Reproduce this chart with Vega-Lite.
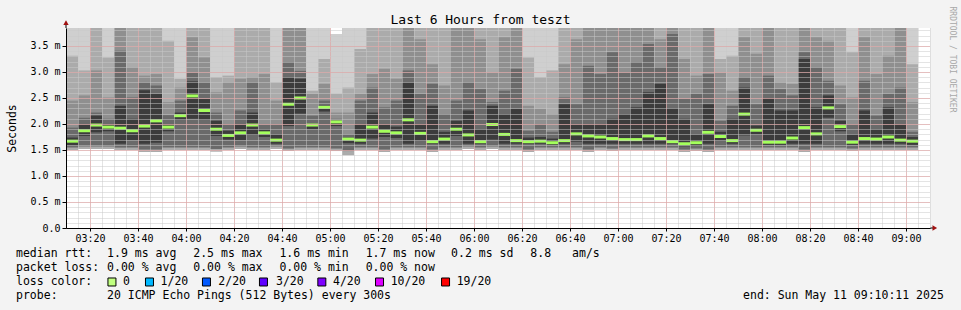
{
  "$schema": "https://vega.github.io/schema/vega-lite/v6.json",
  "width": 864,
  "height": 200,
  "autosize": {"type": "none"},
  "padding": {"left": 66, "top": 28, "right": 31, "bottom": 82},
  "background": "#f3f3f3",
  "config": {"view": {"fill": "#ffffff", "stroke": null}, "font": "DejaVu Sans Mono"},
  "data": {
    "values": [
      {"t":190,"e":195,"a":1.50,"b":1.55,"c":1.59,"m":1.67,"h1":4,"h2":3.31,"h3":2.45,"h4":1.93,"h5":1.74},
      {"t":195,"e":200,"a":1.52,"b":1.57,"c":1.77,"m":1.87,"h1":4,"h2":3.03,"h3":2.55,"h4":2.12,"h5":2.00},
      {"t":200,"e":205,"a":1.52,"b":1.57,"c":1.84,"m":1.98,"h1":4,"h2":4,"h3":3.03,"h4":2.22,"h5":2.16},
      {"t":205,"e":210,"a":1.52,"b":1.57,"c":1.86,"m":1.94,"h1":4,"h2":3.28,"h3":2.51,"h4":2.10,"h5":2.00},
      {"t":210,"e":215,"a":1.50,"b":1.55,"c":1.62,"m":1.92,"h1":4,"h2":4,"h3":4,"h4":3.41,"h5":2.35},
      {"t":215,"e":220,"a":1.50,"b":1.55,"c":1.69,"m":1.87,"h1":4,"h2":4,"h3":3.09,"h4":2.51,"h5":2.10},
      {"t":220,"e":225,"a":1.46,"b":1.51,"c":1.62,"m":1.96,"h1":4,"h2":4,"h3":2.93,"h4":2.80,"h5":2.65},
      {"t":225,"e":230,"a":1.46,"b":1.51,"c":1.64,"m":2.06,"h1":4,"h2":4,"h3":2.96,"h4":2.74,"h5":2.58},
      {"t":230,"e":235,"a":1.50,"b":1.55,"c":1.86,"m":1.94,"h1":4,"h2":3.60,"h3":2.42,"h4":2.17,"h5":2.00},
      {"t":235,"e":240,"a":1.50,"b":1.55,"c":2.08,"m":2.16,"h1":4,"h2":2.87,"h3":2.70,"h4":2.45,"h5":2.22},
      {"t":240,"e":245,"a":1.50,"b":1.55,"c":2.10,"m":2.54,"h1":4,"h2":4,"h3":3.67,"h4":2.99,"h5":2.82},
      {"t":245,"e":250,"a":1.50,"b":1.55,"c":2.08,"m":2.26,"h1":4,"h2":4,"h3":3.28,"h4":2.80,"h5":2.48},
      {"t":250,"e":255,"a":1.47,"b":1.52,"c":1.77,"m":1.90,"h1":4,"h2":2.90,"h3":2.61,"h4":2.22,"h5":2.06},
      {"t":255,"e":260,"a":1.50,"b":1.55,"c":1.70,"m":1.78,"h1":4,"h2":2.93,"h3":2.80,"h4":2.00,"h5":1.87},
      {"t":260,"e":265,"a":1.52,"b":1.57,"c":1.69,"m":1.83,"h1":4,"h2":4,"h3":2.87,"h4":2.26,"h5":2.00},
      {"t":265,"e":270,"a":1.50,"b":1.55,"c":1.79,"m":1.98,"h1":4,"h2":4,"h3":2.90,"h4":2.80,"h5":2.22},
      {"t":270,"e":275,"a":1.50,"b":1.55,"c":1.75,"m":1.83,"h1":4,"h2":4,"h3":2.96,"h4":2.00,"h5":1.90},
      {"t":275,"e":280,"a":1.52,"b":1.57,"c":1.62,"m":1.69,"h1":4,"h2":2.80,"h3":2.45,"h4":2.00,"h5":1.80},
      {"t":280,"e":285,"a":1.48,"b":1.53,"c":1.96,"m":2.38,"h1":4,"h2":4,"h3":4,"h4":3.19,"h5":2.90},
      {"t":285,"e":290,"a":1.50,"b":1.55,"c":2.20,"m":2.50,"h1":4,"h2":4,"h3":4,"h4":3.02,"h5":2.87},
      {"t":290,"e":295,"a":1.50,"b":1.55,"c":1.90,"m":1.98,"h1":4,"h2":2.64,"h3":2.58,"h4":2.16,"h5":2.00},
      {"t":295,"e":300,"a":1.50,"b":1.55,"c":2.24,"m":2.32,"h1":4,"h2":3.25,"h3":2.77,"h4":2.45,"h5":2.35},
      {"t":300,"e":305,"a":1.48,"b":1.53,"c":1.96,"m":2.04,"h1":3.73,"h2":2.58,"h3":2.22,"h4":2.10,"h5":2.06},
      {"t":305,"e":310,"a":1.40,"b":1.48,"c":1.63,"m":1.71,"h1":4,"h2":2.70,"h3":2.22,"h4":1.80,"h5":1.74},
      {"t":310,"e":315,"a":1.50,"b":1.55,"c":1.62,"m":1.69,"h1":4,"h2":3.44,"h3":2.58,"h4":2.45,"h5":2.00},
      {"t":315,"e":320,"a":1.50,"b":1.55,"c":1.72,"m":1.94,"h1":4,"h2":4,"h3":2.96,"h4":2.70,"h5":2.22},
      {"t":320,"e":325,"a":1.46,"b":1.51,"c":1.75,"m":1.86,"h1":4,"h2":4,"h3":3.06,"h4":2.32,"h5":2.00},
      {"t":325,"e":330,"a":1.50,"b":1.55,"c":1.73,"m":1.83,"h1":4,"h2":4,"h3":2.87,"h4":2.45,"h5":1.95},
      {"t":330,"e":335,"a":1.50,"b":1.55,"c":1.62,"m":2.08,"h1":4,"h2":4,"h3":4,"h4":3.03,"h5":2.80},
      {"t":335,"e":340,"a":1.50,"b":1.55,"c":1.68,"m":1.82,"h1":4,"h2":4,"h3":3.63,"h4":2.58,"h5":2.00},
      {"t":340,"e":345,"a":1.46,"b":1.51,"c":1.62,"m":1.66,"h1":4,"h2":4,"h3":3.15,"h4":2.77,"h5":2.35},
      {"t":345,"e":350,"a":1.50,"b":1.55,"c":1.62,"m":1.71,"h1":4,"h2":4,"h3":2.74,"h4":2.19,"h5":1.85},
      {"t":350,"e":355,"a":1.50,"b":1.55,"c":1.77,"m":1.90,"h1":4,"h2":4,"h3":4,"h4":2.45,"h5":2.06},
      {"t":355,"e":360,"a":1.52,"b":1.57,"c":1.62,"m":1.79,"h1":4,"h2":4,"h3":4,"h4":2.80,"h5":2.26},
      {"t":360,"e":365,"a":1.50,"b":1.55,"c":1.62,"m":1.66,"h1":4,"h2":4,"h3":3.63,"h4":2.67,"h5":1.90},
      {"t":365,"e":370,"a":1.52,"b":1.57,"c":1.70,"m":1.99,"h1":4,"h2":4,"h3":2.99,"h4":2.42,"h5":2.35},
      {"t":370,"e":375,"a":1.50,"b":1.55,"c":1.62,"m":1.80,"h1":4,"h2":4,"h3":3.67,"h4":2.64,"h5":2.19},
      {"t":375,"e":380,"a":1.50,"b":1.55,"c":1.62,"m":1.68,"h1":4,"h2":4,"h3":4,"h4":3.06,"h5":2.29},
      {"t":380,"e":385,"a":1.46,"b":1.51,"c":1.62,"m":1.66,"h1":4,"h2":3.28,"h3":2.35,"h4":1.87,"h5":1.74},
      {"t":385,"e":390,"a":1.50,"b":1.55,"c":1.62,"m":1.67,"h1":4,"h2":2.90,"h3":2.29,"h4":2.00,"h5":1.75},
      {"t":390,"e":395,"a":1.50,"b":1.55,"c":1.60,"m":1.64,"h1":4,"h2":3.03,"h3":2.19,"h4":1.85,"h5":1.72},
      {"t":395,"e":400,"a":1.50,"b":1.55,"c":1.62,"m":1.68,"h1":4,"h2":4,"h3":3.15,"h4":2.51,"h5":2.38},
      {"t":400,"e":405,"a":1.50,"b":1.55,"c":1.66,"m":1.81,"h1":4,"h2":4,"h3":3.63,"h4":2.38,"h5":2.00},
      {"t":405,"e":410,"a":1.46,"b":1.51,"c":1.62,"m":1.77,"h1":4,"h2":4,"h3":4,"h4":3.12,"h5":2.00},
      {"t":410,"e":415,"a":1.50,"b":1.55,"c":1.62,"m":1.75,"h1":4,"h2":4,"h3":4,"h4":2.96,"h5":2.00},
      {"t":415,"e":420,"a":1.48,"b":1.53,"c":1.62,"m":1.72,"h1":4,"h2":4,"h3":4,"h4":3.38,"h5":2.10},
      {"t":420,"e":425,"a":1.50,"b":1.55,"c":1.62,"m":1.70,"h1":4,"h2":4,"h3":4,"h4":2.99,"h5":2.19},
      {"t":425,"e":430,"a":1.50,"b":1.55,"c":1.62,"m":1.70,"h1":4,"h2":4,"h3":4,"h4":3.19,"h5":2.32},
      {"t":430,"e":435,"a":1.50,"b":1.55,"c":1.62,"m":1.77,"h1":4,"h2":4,"h3":4,"h4":3.54,"h5":2.61},
      {"t":435,"e":440,"a":1.50,"b":1.55,"c":1.62,"m":1.72,"h1":4,"h2":4,"h3":3.63,"h4":3.09,"h5":2.77},
      {"t":440,"e":445,"a":1.50,"b":1.55,"c":1.62,"m":1.66,"h1":4,"h2":4,"h3":4,"h4":3.73,"h5":2.30},
      {"t":445,"e":450,"a":1.46,"b":1.51,"c":1.57,"m":1.62,"h1":4,"h2":4,"h3":3.25,"h4":2.48,"h5":2.10},
      {"t":450,"e":455,"a":1.48,"b":1.53,"c":1.58,"m":1.64,"h1":4,"h2":4,"h3":2.93,"h4":2.58,"h5":1.80},
      {"t":455,"e":460,"a":1.46,"b":1.51,"c":1.62,"m":1.84,"h1":4,"h2":4,"h3":4,"h4":2.96,"h5":2.38},
      {"t":460,"e":465,"a":1.50,"b":1.55,"c":1.68,"m":1.76,"h1":4,"h2":3.25,"h3":2.99,"h4":2.06,"h5":1.85},
      {"t":465,"e":470,"a":1.50,"b":1.55,"c":1.62,"m":1.68,"h1":4,"h2":3.31,"h3":2.64,"h4":2.35,"h5":2.10},
      {"t":470,"e":475,"a":1.50,"b":1.55,"c":1.78,"m":2.19,"h1":4,"h2":4,"h3":3.67,"h4":2.90,"h5":2.70},
      {"t":475,"e":480,"a":1.50,"b":1.55,"c":1.80,"m":1.88,"h1":4,"h2":4,"h3":3.35,"h4":2.38,"h5":1.97},
      {"t":480,"e":485,"a":1.50,"b":1.55,"c":1.60,"m":1.65,"h1":4,"h2":4,"h3":4,"h4":2.93,"h5":2.50},
      {"t":485,"e":490,"a":1.50,"b":1.55,"c":1.60,"m":1.65,"h1":4,"h2":4,"h3":2.80,"h4":2.67,"h5":2.26},
      {"t":490,"e":495,"a":1.50,"b":1.55,"c":1.62,"m":1.73,"h1":4,"h2":4,"h3":2.77,"h4":2.55,"h5":2.26},
      {"t":495,"e":500,"a":1.46,"b":1.51,"c":1.62,"m":1.93,"h1":4,"h2":4,"h3":4,"h4":3.38,"h5":3.25},
      {"t":500,"e":505,"a":1.50,"b":1.55,"c":1.62,"m":1.81,"h1":4,"h2":4,"h3":3.67,"h4":3.09,"h5":2.32},
      {"t":505,"e":510,"a":1.50,"b":1.55,"c":2.12,"m":2.31,"h1":4,"h2":4,"h3":3.60,"h4":2.83,"h5":2.55},
      {"t":510,"e":515,"a":1.50,"b":1.55,"c":1.86,"m":1.95,"h1":4,"h2":4,"h3":2.74,"h4":2.38,"h5":2.06},
      {"t":515,"e":520,"a":1.48,"b":1.53,"c":1.60,"m":1.65,"h1":4,"h2":3.38,"h3":2.51,"h4":2.00,"h5":1.80},
      {"t":520,"e":525,"a":1.50,"b":1.55,"c":1.62,"m":1.72,"h1":4,"h2":4,"h3":3.67,"h4":2.83,"h5":2.26},
      {"t":525,"e":530,"a":1.50,"b":1.55,"c":1.62,"m":1.71,"h1":4,"h2":4,"h3":2.96,"h4":2.16,"h5":1.90},
      {"t":530,"e":535,"a":1.50,"b":1.55,"c":1.62,"m":1.75,"h1":4,"h2":4,"h3":3.31,"h4":2.58,"h5":2.32},
      {"t":535,"e":540,"a":1.50,"b":1.55,"c":1.62,"m":1.69,"h1":4,"h2":4,"h3":4,"h4":2.70,"h5":2.00},
      {"t":540,"e":545,"a":1.50,"b":1.55,"c":1.60,"m":1.67,"h1":4,"h2":3.15,"h3":2.42,"h4":1.85,"h5":1.75}
    ]
  },
  "resolve": {"scale": {"x": "independent", "y": "independent"}, "axis": {"x": "independent", "y": "independent"}},
  "layer": [
    {
      "mark": {"type": "point", "opacity": 0},
      "encoding": {
        "x": {"field": "t", "type": "quantitative", "scale": {"domain": [190, 550], "nice": false, "zero": false},
          "axis": {"orient": "bottom", "title": null, "labels": false, "ticks": false, "domain": false, "grid": true, "gridColor": "#c8c8c8", "gridDash": [1, 1], "gridWidth": 1, "tickCount": 72, "zindex": 1}},
        "y": {"field": "m", "type": "quantitative", "scale": {"domain": [0, 3.846], "nice": false, "zero": false},
          "axis": {"orient": "left", "title": null, "labels": false, "ticks": false, "domain": false, "grid": true, "gridColor": "#c8c8c8", "gridDash": [1, 1], "gridWidth": 1, "tickCount": 40, "zindex": 1}}
      }
    },
    {
      "mark": {"type": "rect", "color": "#cfcfcf", "clip": true},
      "encoding": {
        "x": {"field": "t", "type": "quantitative", "scale": {"domain": [190, 550], "nice": false, "zero": false},
          "axis": {"orient": "bottom", "title": null, "values": [200, 220, 240, 260, 280, 300, 320, 340, 360, 380, 400, 420, 440, 460, 480, 500, 520, 540], "labelExpr": "pad(floor(datum.value / 60) + '', 2, '0', 'left') + ':' + pad((datum.value % 60) + '', 2, '0', 'left')", "grid": true, "gridColor": "#e69a9a", "gridDash": [1, 1], "gridWidth": 1, "domainColor": "#000000", "tickColor": "#000000", "tickSize": 3, "labelFont": "DejaVu Sans Mono", "labelFontSize": 10, "labelColor": "#000000", "labelPadding": 2, "labelFlush": false, "labelOverlap": false, "zindex": 1}},
        "x2": {"field": "e"},
        "y": {"field": "a", "type": "quantitative", "scale": {"domain": [0, 3.846], "nice": false, "zero": false},
          "axis": {"orient": "left", "title": "Seconds", "titleFont": "DejaVu Sans Mono", "titleFontSize": 11.5, "titleFontWeight": "normal", "titleColor": "#000000", "titlePadding": 12, "values": [0, 0.5, 1, 1.5, 2, 2.5, 3, 3.5], "labelExpr": "datum.value == 0 ? '0.0\u00a0\u00a0' : format(datum.value, '.1f') + ' m'", "grid": true, "gridColor": "#e69a9a", "gridDash": [1, 1], "gridWidth": 1, "domainColor": "#000000", "tickColor": "#000000", "tickSize": 4, "labelFont": "DejaVu Sans Mono", "labelFontSize": 10, "labelColor": "#000000", "labelPadding": 2, "labelFlush": false, "zindex": 1}},
        "y2": {"field": "h1"}
      }
    },
    {
      "mark": {"type": "rect", "color": "#ababab", "clip": true},
      "encoding": {
        "x": {"field": "t", "type": "quantitative", "scale": {"domain": [190, 550], "nice": false, "zero": false}, "axis": null},
        "x2": {"field": "e"},
        "y": {"field": "a", "type": "quantitative", "scale": {"domain": [0, 3.846], "nice": false, "zero": false}, "axis": null},
        "y2": {"field": "h2"}
      }
    },
    {
      "mark": {"type": "rect", "color": "#8f8f8f", "clip": true},
      "encoding": {
        "x": {"field": "t", "type": "quantitative", "scale": {"domain": [190, 550], "nice": false, "zero": false}, "axis": null},
        "x2": {"field": "e"},
        "y": {"field": "b", "type": "quantitative", "scale": {"domain": [0, 3.846], "nice": false, "zero": false}, "axis": null},
        "y2": {"field": "h3"}
      }
    },
    {
      "mark": {"type": "rect", "color": "#6a6a6a", "clip": true},
      "encoding": {
        "x": {"field": "t", "type": "quantitative", "scale": {"domain": [190, 550], "nice": false, "zero": false}, "axis": null},
        "x2": {"field": "e"},
        "y": {"field": "b", "type": "quantitative", "scale": {"domain": [0, 3.846], "nice": false, "zero": false}, "axis": null},
        "y2": {"field": "h4"}
      }
    },
    {
      "mark": {"type": "rect", "color": "#3c3c3c", "clip": true},
      "encoding": {
        "x": {"field": "t", "type": "quantitative", "scale": {"domain": [190, 550], "nice": false, "zero": false}, "axis": null},
        "x2": {"field": "e"},
        "y": {"field": "c", "type": "quantitative", "scale": {"domain": [0, 3.846], "nice": false, "zero": false}, "axis": null},
        "y2": {"field": "h5"}
      }
    },
    {
      "mark": {"type": "rule", "color": "#a4ff5c", "strokeWidth": 3},
      "encoding": {
        "x": {"field": "t", "type": "quantitative", "scale": {"domain": [190, 550], "nice": false, "zero": false}, "axis": null},
        "x2": {"field": "e"},
        "y": {"field": "m", "type": "quantitative", "scale": {"domain": [0, 3.846], "nice": false, "zero": false}, "axis": null}
      }
    },
    {
      "data": {"values": [{"t": 550, "e": 552, "m": 0}]},
      "mark": {"type": "rule", "color": "#000000", "strokeWidth": 1, "clip": false},
      "encoding": {
        "x": {"field": "t", "type": "quantitative", "scale": {"domain": [190, 550], "nice": false, "zero": false}, "axis": null},
        "x2": {"field": "e"},
        "y": {"field": "m", "type": "quantitative", "scale": {"domain": [0, 3.846], "nice": false, "zero": false}, "axis": null}
      }
    },
    {
      "data": {"values": [{"t": 552, "m": 0}]},
      "mark": {"type": "point", "shape": "triangle-right", "filled": true, "color": "#a01010", "size": 28, "opacity": 1, "clip": false},
      "encoding": {
        "x": {"field": "t", "type": "quantitative", "scale": {"domain": [190, 550], "nice": false, "zero": false}, "axis": null},
        "y": {"field": "m", "type": "quantitative", "scale": {"domain": [0, 3.846], "nice": false, "zero": false}, "axis": null}
      }
    },
    {
      "data": {"values": [{"t": 190, "m": 3.846, "h1": 3.95}]},
      "mark": {"type": "rule", "color": "#000000", "strokeWidth": 1, "clip": false},
      "encoding": {
        "x": {"field": "t", "type": "quantitative", "scale": {"domain": [190, 550], "nice": false, "zero": false}, "axis": null},
        "y": {"field": "m", "type": "quantitative", "scale": {"domain": [0, 3.846], "nice": false, "zero": false}, "axis": null},
        "y2": {"field": "h1"}
      }
    },
    {
      "data": {"values": [{"t": 190, "m": 3.95}]},
      "mark": {"type": "point", "shape": "triangle-up", "filled": true, "color": "#a01010", "size": 28, "opacity": 1, "clip": false},
      "encoding": {
        "x": {"field": "t", "type": "quantitative", "scale": {"domain": [190, 550], "nice": false, "zero": false}, "axis": null},
        "y": {"field": "m", "type": "quantitative", "scale": {"domain": [0, 3.846], "nice": false, "zero": false}, "axis": null}
      }
    },
    {
      "data": {"values": [
        {"r": 0, "c": 0, "s": "median rtt:"},
        {"r": 0, "c": 13.1, "s": "1.9 ms avg"},
        {"r": 0, "c": 25.5, "s": "2.5 ms max"},
        {"r": 0, "c": 37.9, "s": "1.6 ms min"},
        {"r": 0, "c": 50.3, "s": "1.7 ms now"},
        {"r": 0, "c": 62.6, "s": "0.2 ms sd"},
        {"r": 0, "c": 74.0, "s": "8.8"},
        {"r": 0, "c": 80.0, "s": "am/s"},
        {"r": 1, "c": 0, "s": "packet loss:"},
        {"r": 1, "c": 13.1, "s": "0.00 % avg"},
        {"r": 1, "c": 25.5, "s": "0.00 % max"},
        {"r": 1, "c": 37.9, "s": "0.00 % min"},
        {"r": 1, "c": 50.3, "s": "0.00 % now"},
        {"r": 2, "c": 0, "s": "loss color:"},
        {"r": 2, "c": 15.4, "s": "0"},
        {"r": 2, "c": 20.8, "s": "1/20"},
        {"r": 2, "c": 29.1, "s": "2/20"},
        {"r": 2, "c": 37.4, "s": "3/20"},
        {"r": 2, "c": 45.6, "s": "4/20"},
        {"r": 2, "c": 53.9, "s": "10/20"},
        {"r": 2, "c": 63.4, "s": "19/20"},
        {"r": 3, "c": 0, "s": "probe:"},
        {"r": 3, "c": 13.1, "s": "20 ICMP Echo Pings (512 Bytes) every 300s"},
        {"r": 3, "c": 104.6, "s": "end: Sun May 11 09:10:11 2025"}
      ]},
      "mark": {"type": "text", "align": "left", "baseline": "middle", "font": "DejaVu Sans Mono", "fontSize": 11.5, "color": "#000000", "clip": false},
      "encoding": {
        "x": {"field": "c", "type": "quantitative", "scale": {"domain": [7.19, 131.5], "nice": false, "zero": false},
          "axis": {"orient": "top", "labels": false, "ticks": false, "domain": false, "grid": false, "title": "Last 6 Hours from teszt", "titleFont": "DejaVu Sans Mono", "titleFontSize": 13, "titleFontWeight": "normal", "titleColor": "#000000", "titleX": 414, "titleY": -5, "titleAlign": "center", "titleBaseline": "alphabetic", "titleAngle": 0}},
        "y": {"field": "r", "type": "quantitative", "scale": {"domain": [-16.143, -1.857], "reverse": true, "nice": false, "zero": false},
          "axis": {"orient": "right", "labels": false, "ticks": false, "domain": false, "grid": false, "title": "RRDTOOL / TOBI OETIKER", "titleAngle": 90, "titleFont": "DejaVu Sans Mono", "titleFontSize": 8, "titleFontWeight": "normal", "titleColor": "#a8a8a8", "titleX": 21, "titleY": 31, "titleAlign": "center", "titleBaseline": "middle"}},
        "text": {"field": "s"}
      }
    },
    {
      "data": {"values": [
        {"r": 2, "c": 13.8, "k": "0"},
        {"r": 2, "c": 19.2, "k": "1/20"},
        {"r": 2, "c": 27.4, "k": "2/20"},
        {"r": 2, "c": 35.6, "k": "3/20"},
        {"r": 2, "c": 44.0, "k": "4/20"},
        {"r": 2, "c": 52.3, "k": "10/20"},
        {"r": 2, "c": 61.8, "k": "19/20"}
      ]},
      "mark": {"type": "point", "shape": "square", "filled": true, "size": 64, "stroke": "#000000", "strokeWidth": 1, "opacity": 1, "clip": false},
      "encoding": {
        "x": {"field": "c", "type": "quantitative", "scale": {"domain": [7.19, 131.5], "nice": false, "zero": false}, "axis": null},
        "y": {"field": "r", "type": "quantitative", "scale": {"domain": [-16.143, -1.857], "reverse": true, "nice": false, "zero": false}, "axis": null},
        "fill": {"field": "k", "type": "nominal", "legend": null,
          "scale": {"domain": ["0", "1/20", "2/20", "3/20", "4/20", "10/20", "19/20"], "range": ["#c0ff80", "#00b8ff", "#0059ff", "#5e00ff", "#7e00ff", "#dd00ff", "#ff0000"]}}
      }
    }
  ]
}
